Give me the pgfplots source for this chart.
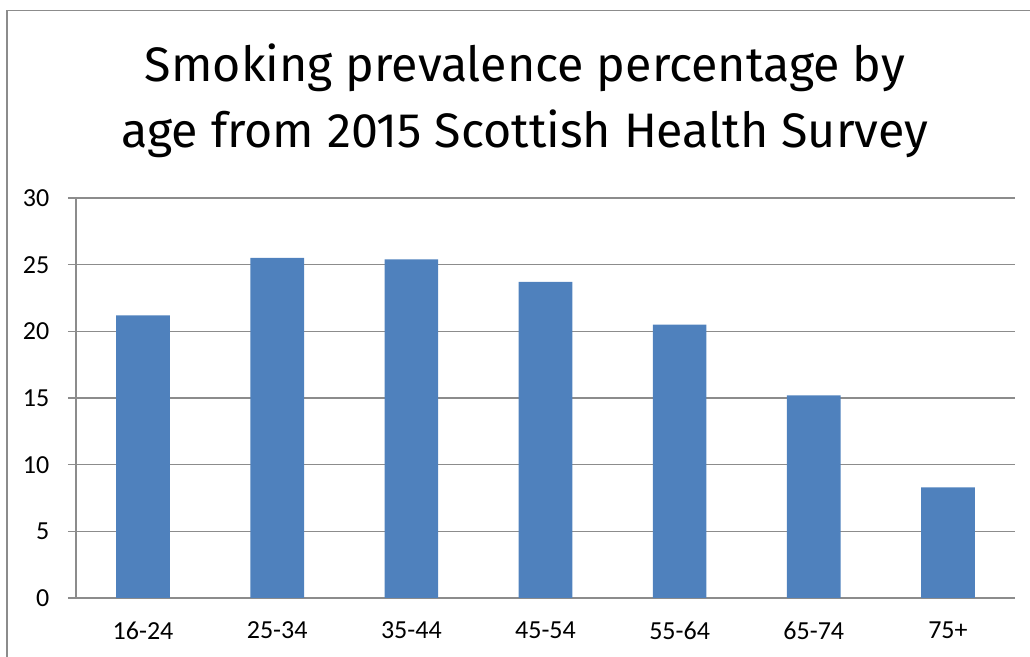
\documentclass[border=0pt]{standalone}
\usepackage{pgfplots}
\pgfplotsset{compat=1.18}
\usepackage{fontspec}
\setmainfont{Carlito}
\newfontfamily\titlefont{Fira Sans}
\definecolor{barblue}{HTML}{4F81BD}
\definecolor{gridgray}{HTML}{8C8C8C}
\definecolor{framegray}{HTML}{8C8C8C}
\begin{document}
\begin{tikzpicture}[x=0.75pt,y=0.75pt]
\useasboundingbox (0,0) rectangle (1030,656);
\draw[framegray, line width=1.1pt] (7,-20) rectangle (1050,645.5);
\node[font=\titlefont\fontsize{36.3}{44}\selectfont, anchor=base] at (525,574) {Smoking prevalence percentage by};
\node[font=\titlefont\fontsize{36.3}{44}\selectfont, anchor=base] at (525,508) {age from 2015 Scottish Health Survey};
\begin{axis}[
  at={(57pt,43.5pt)}, anchor=south west,
  scale only axis, width=704.25pt, height=300pt,
  ymin=0, ymax=30, ytick={0,5,...,30},
  xmin=0.5, xmax=7.5,
  xtick={1,...,7},
  xticklabels={16-24,25-34,35-44,45-54,55-64,65-74,75+},
  axis x line=bottom, axis y line=left,
  axis line style={-, gridgray, line width=1pt},
  ymajorgrids, grid style={gridgray, line width=1pt},
  tick align=outside,
  major tick length=6pt,
  y tick style={gridgray, line width=1pt},
  x tick style={draw=none},
  extra x ticks={0.5,1.5,2.5,3.5,4.5,5.5,6.5,7.5},
  extra x tick labels={},
  extra x tick style={grid=none, tick align=outside, major tick length=6pt, tick style={draw=gridgray, line width=1pt}},
  ticklabel style={font=\fontsize{19.5}{22}\selectfont, text=black},
  /pgf/number format/assume math mode=true,
  yticklabel style={xshift=-10.5pt},
  xticklabel style={yshift=-8.5pt},
  ybar, bar width=0.4,
]
\addplot[fill=barblue, draw=none] coordinates {
(1,21.2) (2,25.5) (3,25.4) (4,23.7) (5,20.5) (6,15.2) (7,8.3)
};
\end{axis}
\end{tikzpicture}
\end{document}
